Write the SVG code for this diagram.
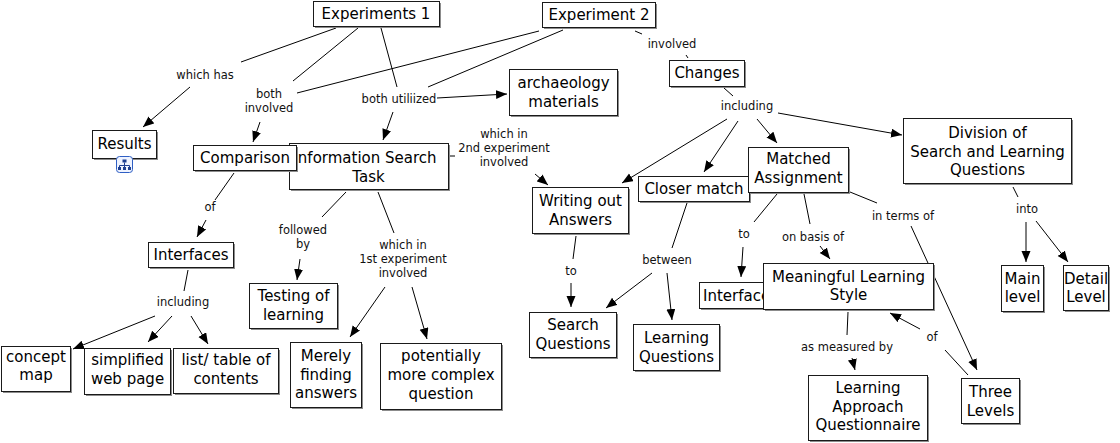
<svg xmlns="http://www.w3.org/2000/svg" width="1120" height="443" viewBox="0 0 1120 443">
<style>
.bg{fill:#ffffff}
.sh{fill:#8c8c8c}
.box{fill:#ffffff;stroke:#1a1a1a;stroke-width:1}
.nt{font-family:"DejaVu Sans",Verdana,sans-serif;font-size:15px;fill:#000;text-anchor:middle}
.lt{font-family:"DejaVu Sans",Verdana,sans-serif;font-size:11.5px;fill:#111;text-anchor:middle}
.c{stroke:#000;stroke-width:1;fill:none}
.a{marker-end:url(#ah)}
</style>
<defs>
<marker id="ah" markerUnits="userSpaceOnUse" markerWidth="12" markerHeight="10" refX="11" refY="4.5" orient="auto">
<path d="M0,0 L11,4.5 L0,9 z" fill="#000"/>
</marker>
</defs>
<rect class="bg" x="0" y="0" width="1120" height="443"/>
<g id="connectors">
<path class="c" d="M336,28 L241,62"/>
<path class="c a" d="M190,87 L143,127"/>
<path class="c" d="M358,28 L293,81"/>
<path class="c" d="M539,31 L297,93"/>
<path class="c a" d="M260,122 L253,142"/>
<path class="c" d="M381,28 L397,87"/>
<path class="c" d="M563,30 L428,87"/>
<path class="c a" d="M393,112 L383,140"/>
<path class="c a" d="M437,98 L507,94"/>
<path class="c" d="M449,156 L455,156"/>
<path class="c a" d="M535,174 L548,185"/>
<path class="c" d="M635,31 L642,34"/>
<path class="c" d="M686,55 L688,58"/>
<path class="c" d="M724,88 L733,96"/>
<path class="c a" d="M727,119 L622,183"/>
<path class="c a" d="M738,121 L704,172"/>
<path class="c a" d="M757,119 L777,143"/>
<path class="c a" d="M778,113 L902,135"/>
<path class="c" d="M234,173 L215,200"/>
<path class="c a" d="M206,220 L197,237"/>
<path class="c" d="M188,270 L184,291"/>
<path class="c a" d="M155,316 L73,349"/>
<path class="c a" d="M172,316 L148,342"/>
<path class="c a" d="M191,316 L208,344"/>
<path class="c" d="M346,192 L322,217"/>
<path class="c a" d="M300,259 L297,280"/>
<path class="c" d="M378,192 L394,233"/>
<path class="c a" d="M385,287 L350,337"/>
<path class="c a" d="M412,287 L427,339"/>
<path class="c" d="M576,236 L573,259"/>
<path class="c a" d="M571,283 L571,307"/>
<path class="c" d="M687,203 L672,248"/>
<path class="c a" d="M652,273 L606,308"/>
<path class="c a" d="M667,273 L672,320"/>
<path class="c" d="M777,194 L754,222"/>
<path class="c a" d="M743,247 L741,277"/>
<path class="c" d="M804,194 L810,224"/>
<path class="c a" d="M820,246 L830,259"/>
<path class="c" d="M850,192 L877,203"/>
<path class="c a" d="M911,226 L977,370"/>
<path class="c" d="M848,312 L847,335"/>
<path class="c a" d="M852,358 L855,370"/>
<path class="c" d="M968,375 L945,350"/>
<path class="c a" d="M920,329 L890,313"/>
<path class="c" d="M1013,187 L1018,197"/>
<path class="c a" d="M1026,222 L1026,262"/>
<path class="c a" d="M1036,221 L1068,262"/>
</g>
<g id="labels">
<g id="l-which-has"><text class="lt" x="205" y="79">which has</text></g>
<g id="l-both-involved"><text class="lt" x="269" y="98">both</text><text class="lt" x="269" y="112">involved</text></g>
<g id="l-both-utiliized"><text class="lt" x="399" y="103">both utiliized</text></g>
<g id="l-involved"><text class="lt" x="672" y="48">involved</text></g>
<g id="l-including-1"><text class="lt" x="747" y="110">including</text></g>
<g id="l-which-2nd"><text class="lt" x="504" y="138">which in</text><text class="lt" x="504" y="152">2nd experiment</text><text class="lt" x="504" y="166">involved</text></g>
<g id="l-of-1"><text class="lt" x="210" y="211">of</text></g>
<g id="l-including-2"><text class="lt" x="183" y="306">including</text></g>
<g id="l-followed-by"><text class="lt" x="303" y="234">followed</text><text class="lt" x="303" y="248">by</text></g>
<g id="l-which-1st"><text class="lt" x="403" y="249">which in</text><text class="lt" x="403" y="263">1st experiment</text><text class="lt" x="403" y="277">involved</text></g>
<g id="l-to-1"><text class="lt" x="571" y="275">to</text></g>
<g id="l-between"><text class="lt" x="667" y="264">between</text></g>
<g id="l-to-2"><text class="lt" x="744" y="238">to</text></g>
<g id="l-on-basis"><text class="lt" x="813" y="241">on basis of</text></g>
<g id="l-in-terms"><text class="lt" x="903" y="220">in terms of</text></g>
<g id="l-into"><text class="lt" x="1027" y="213">into</text></g>
<g id="l-as-measured"><text class="lt" x="847" y="351">as measured by</text></g>
<g id="l-of-2"><text class="lt" x="932" y="341">of</text></g>
</g>
<g id="n-exp1"><rect class="sh" x="315" y="3" width="126" height="25"/><rect class="box" x="313.5" y="1.5" width="126" height="25"/><text class="nt" x="376" y="19">Experiments 1</text></g>
<g id="n-exp2"><rect class="sh" x="544" y="4" width="113" height="25"/><rect class="box" x="542.5" y="2.5" width="113" height="25"/><text class="nt" x="599" y="20">Experiment 2</text></g>
<g id="n-results"><rect class="sh" x="94" y="132" width="64" height="28"/><rect class="box" x="92.5" y="130.5" width="64" height="28"/><text class="nt" x="124.5" y="149">Results</text>
<rect x="116.5" y="156.5" width="16" height="16" rx="3" fill="#eef3ff" stroke="#2f5fc4" stroke-width="1"/>
<rect x="122.5" y="159.5" width="4" height="3" fill="#1d3f91"/>
<path d="M124.5,162.5 V165 M119.5,165.5 H129.5 M119.5,165.5 V167 M124.5,165.5 V167 M129.5,165.5 V167" stroke="#1d3f91" stroke-width="1" fill="none"/>
<rect x="118" y="167" width="3" height="3" fill="#1d3f91"/><rect x="123" y="167" width="3" height="3" fill="#1d3f91"/><rect x="128" y="167" width="3" height="3" fill="#1d3f91"/>
</g>
<g id="n-infotask"><rect class="sh" x="291" y="145" width="159" height="46"/><rect class="box" x="289.5" y="143.5" width="159" height="46"/><text class="nt" x="365" y="163">Information Search</text><text class="nt" x="368.5" y="182">Task</text></g>
<g id="n-comparison"><rect class="sh" x="195" y="147" width="103" height="25"/><rect class="box" x="193.5" y="145.5" width="103" height="25"/><text class="nt" x="245" y="163">Comparison</text></g>
<g id="n-archaeology"><rect class="sh" x="511" y="71" width="108" height="46"/><rect class="box" x="509.5" y="69.5" width="108" height="46"/><text class="nt" x="563.5" y="88">archaeology</text><text class="nt" x="563.5" y="107">materials</text></g>
<g id="n-changes"><rect class="sh" x="671" y="62" width="75" height="26"/><rect class="box" x="669.5" y="60.5" width="75" height="26"/><text class="nt" x="707" y="78">Changes</text></g>
<g id="n-writing"><rect class="sh" x="534" y="189" width="96" height="46"/><rect class="box" x="532.5" y="187.5" width="96" height="46"/><text class="nt" x="580.5" y="206">Writing out</text><text class="nt" x="580.5" y="225">Answers</text></g>
<g id="n-closer"><rect class="sh" x="640" y="178" width="111" height="25"/><rect class="box" x="638.5" y="176.5" width="111" height="25"/><text class="nt" x="694" y="194">Closer match</text></g>
<g id="n-matched"><rect class="sh" x="750" y="149" width="100" height="45"/><rect class="box" x="748.5" y="147.5" width="100" height="45"/><text class="nt" x="798.5" y="164">Matched</text><text class="nt" x="798.5" y="183">Assignment</text></g>
<g id="n-division"><rect class="sh" x="905" y="120" width="168" height="65"/><rect class="box" x="903.5" y="118.5" width="168" height="65"/><text class="nt" x="987.5" y="138">Division of</text><text class="nt" x="987.5" y="156.5">Search and Learning</text><text class="nt" x="987.5" y="175">Questions</text></g>
<g id="n-main"><rect class="sh" x="1003" y="267" width="42" height="46"/><rect class="box" x="1001.5" y="265.5" width="42" height="46"/><text class="nt" x="1022.5" y="284">Main</text><text class="nt" x="1022.5" y="302">level</text></g>
<g id="n-detail"><rect class="sh" x="1065" y="267" width="45" height="45"/><rect class="box" x="1063.5" y="265.5" width="45" height="45"/><text class="nt" x="1086" y="284">Detail</text><text class="nt" x="1086" y="302">Level</text></g>
<g id="n-interfaces-2"><rect class="sh" x="701" y="284" width="81" height="26"/><rect class="box" x="699.5" y="282.5" width="81" height="26"/><text class="nt" x="740.5" y="301">Interfaces</text></g>
<g id="n-meaningful"><rect class="sh" x="765" y="265" width="170" height="46"/><rect class="box" x="763.5" y="263.5" width="170" height="46"/><text class="nt" x="848.5" y="281.5">Meaningful Learning</text><text class="nt" x="848.5" y="300">Style</text></g>
<g id="n-searchq"><rect class="sh" x="531" y="314" width="87" height="45"/><rect class="box" x="529.5" y="312.5" width="87" height="45"/><text class="nt" x="573" y="330">Search</text><text class="nt" x="573" y="349">Questions</text></g>
<g id="n-learningq"><rect class="sh" x="635" y="326" width="86" height="46"/><rect class="box" x="633.5" y="324.5" width="86" height="46"/><text class="nt" x="676.5" y="343">Learning</text><text class="nt" x="676.5" y="362">Questions</text></g>
<g id="n-laq"><rect class="sh" x="810" y="377" width="119" height="65"/><rect class="box" x="808.5" y="375.5" width="119" height="65"/><text class="nt" x="868" y="393">Learning</text><text class="nt" x="868" y="412">Approach</text><text class="nt" x="868" y="430">Questionnaire</text></g>
<g id="n-three"><rect class="sh" x="963" y="380" width="58" height="45"/><rect class="box" x="961.5" y="378.5" width="58" height="45"/><text class="nt" x="990.5" y="397">Three</text><text class="nt" x="990.5" y="416">Levels</text></g>
<g id="n-interfaces-1"><rect class="sh" x="150" y="244" width="85" height="25"/><rect class="box" x="148.5" y="242.5" width="85" height="25"/><text class="nt" x="191" y="260">Interfaces</text></g>
<g id="n-concept"><rect class="sh" x="3" y="348" width="69" height="45"/><rect class="box" x="1.5" y="346.5" width="69" height="45"/><text class="nt" x="36" y="362">concept</text><text class="nt" x="36" y="380">map</text></g>
<g id="n-simplified"><rect class="sh" x="86" y="350" width="86" height="46"/><rect class="box" x="84.5" y="348.5" width="86" height="46"/><text class="nt" x="127.5" y="365">simplified</text><text class="nt" x="127.5" y="384">web page</text></g>
<g id="n-list"><rect class="sh" x="175" y="350" width="105" height="45"/><rect class="box" x="173.5" y="348.5" width="105" height="45"/><text class="nt" x="226" y="365">list/ table of</text><text class="nt" x="226" y="384">contents</text></g>
<g id="n-testing"><rect class="sh" x="251" y="285" width="88" height="45"/><rect class="box" x="249.5" y="283.5" width="88" height="45"/><text class="nt" x="293.5" y="301">Testing of</text><text class="nt" x="293.5" y="320">learning</text></g>
<g id="n-merely"><rect class="sh" x="292" y="344" width="71" height="65"/><rect class="box" x="290.5" y="342.5" width="71" height="65"/><text class="nt" x="326" y="361">Merely</text><text class="nt" x="326" y="379.5">finding</text><text class="nt" x="326" y="398">answers</text></g>
<g id="n-potentially"><rect class="sh" x="382" y="345" width="121" height="66"/><rect class="box" x="380.5" y="343.5" width="121" height="66"/><text class="nt" x="441" y="361">potentially</text><text class="nt" x="441" y="380">more complex</text><text class="nt" x="441" y="398.5">question</text></g>
</svg>
